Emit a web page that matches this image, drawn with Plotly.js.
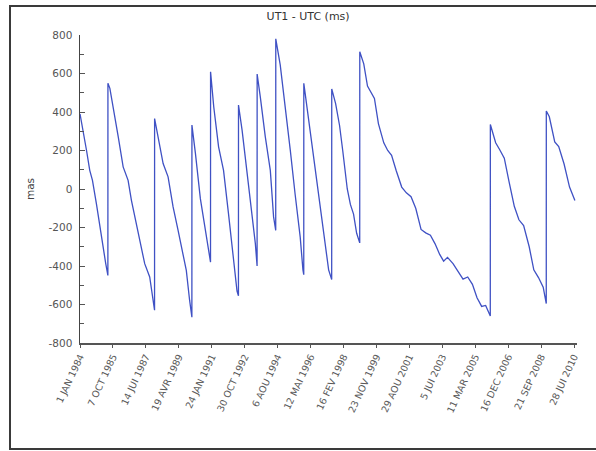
<!DOCTYPE html>
<html>
<head>
<meta charset="utf-8">
<script src="https://cdn.plot.ly/plotly-3.0.1.min.js"></script>
<style>
  html, body { margin: 0; padding: 0; background: #fff; }
  #wrap { position: relative; width: 596px; height: 451px; overflow: hidden; }
  #frame { position: absolute; left: 9px; top: 5px; width: 620px; height: 441px;
           border: 2px solid #3a3a3a; pointer-events: none; z-index: 5; }
  #chart { position: absolute; left: 0; top: 0; width: 596px; height: 451px; }
</style>
</head>
<body>
<div id="wrap">
  <div id="chart"></div>
  <div id="frame"></div>
</div>
<script>
// UT1 - UTC values (ms)
const dates = [
  '1984-01-01','1984-03-01','1984-05-08','1984-07-10','1984-09-01','1984-11-17','1985-01-22','1985-03-29','1985-05-19','1985-06-30',
  '1985-07-01','1985-08-08','1985-10-12','1986-01-19','1986-04-25','1986-07-31','1986-10-04','1987-01-10','1987-04-16','1987-06-21','1987-09-27','1987-12-15','1987-12-31',
  '1988-01-01','1988-03-10','1988-06-16','1988-09-21','1988-12-28','1989-04-05','1989-07-12','1989-09-13','1989-11-17','1989-12-31',
  '1990-01-01','1990-02-01','1990-03-11','1990-06-15','1990-09-20','1990-12-13','1990-12-31',
  '1991-01-01','1991-03-04','1991-06-07','1991-09-12','1991-12-18','1992-03-28','1992-06-02','1992-06-30',
  '1992-07-01','1992-09-09','1992-12-16','1993-03-23','1993-05-27','1993-06-30',
  '1993-07-01','1993-09-01','1993-12-08','1994-03-16','1994-05-19','1994-06-30',
  '1994-07-01','1994-09-26','1995-01-04','1995-04-11','1995-07-16','1995-10-22','1995-12-15','1995-12-31',
  '1996-01-01','1996-03-01','1996-05-01','1996-07-01','1996-09-01','1996-11-01','1997-01-01','1997-03-01','1997-05-01','1997-06-30',
  '1997-07-01','1997-09-15','1997-12-01','1998-02-01','1998-05-01','1998-07-01','1998-09-01','1998-11-01','1998-12-31',
  '1999-01-01','1999-03-20','1999-06-01','1999-08-15','1999-10-15','2000-01-01','2000-04-15','2000-07-01','2000-09-15','2000-12-15',
  '2001-04-01','2001-07-01','2001-10-01','2002-01-01','2002-04-15','2002-07-15','2002-10-15','2003-01-15','2003-04-15','2003-07-01',
  '2003-09-15','2004-01-01','2004-04-15','2004-07-15','2004-10-15','2005-01-15','2005-04-15','2005-07-15','2005-10-01','2005-12-31',
  '2006-01-01','2006-04-15','2006-07-01','2006-10-01','2007-01-01','2007-04-15','2007-07-15','2007-10-15','2008-02-01','2008-05-01','2008-08-01','2008-11-01','2008-12-31',
  '2009-01-01','2009-03-01','2009-06-15','2009-09-01','2009-12-15','2010-04-01','2010-07-15'
];
const utcMs = [
  390, 305, 200, 97, 45, -76, -197, -301, -388, -449,
  549, 523, 427, 271, 115, 45, -59, -180, -301, -388, -457, -600, -630,
  366, 271, 132, 63, -93, -215, -353, -423, -579, -666,
  332, 250, 184, -50, -215, -365, -380,
  609, 427, 219, 97, -128, -388, -530, -555,
  436, 306, 80, -145, -284, -400,
  597, 479, 271, 97, -145, -215,
  780, 645, 435, 202, -30, -249, -420, -445,
  549, 430, 300, 190, 70, -40, -160, -300, -420, -470,
  520, 444, 330, 200, 0, -80, -130, -230, -280,
  713, 650, 535, 500, 470, 340, 240, 200, 175, 95,
  10, -20, -40, -100, -210, -228, -240, -285, -340, -375,
  -355, -388, -428, -468, -457, -495, -565, -610, -605, -660,
  335, 240, 205, 160, 40, -90, -160, -190, -300, -420, -460, -510, -595,
  405, 375, 245, 220, 130, 10, -60
];
const tickDates = ['1984-01-01','1985-10-07','1987-07-14','1989-04-19','1991-01-24','1992-10-30','1994-08-06','1996-05-12',
  '1998-02-16','1999-11-23','2001-08-29','2003-06-05','2005-03-11','2006-12-16','2008-09-21','2010-06-28'];
const tickLabels = ['1 JAN 1984','7 OCT 1985','14 JUI 1987','19 AVR 1989','24 JAN 1991','30 OCT 1992','6 AOU 1994','12 MAI 1996',
  '16 FEV 1998','23 NOV 1999','29 AOU 2001','5 JUI 2003','11 MAR 2005','16 DEC 2006','21 SEP 2008','28 JUI 2010'];
const yTicks = [-800, -600, -400, -200, 0, 200, 400, 600, 800];
const yTickLabels = ['-800', '-600', '-400', '-200', '0', '200', '400', '600', '800'];

const trace = {
  x: dates, y: utcMs, type: 'scatter', mode: 'lines',
  line: { color: '#3f51c4', width: 1.3 },
  hoverinfo: 'skip'
};

const layout = {
  width: 596, height: 451,
  margin: { l: 80, r: 19, t: 35, b: 108 },
  paper_bgcolor: '#ffffff', plot_bgcolor: '#ffffff',
  showlegend: false,
  font: { family: 'DejaVu Sans, sans-serif', color: '#555' },
  title: {
    text: 'UT1 - UTC (ms)',
    font: { family: 'DejaVu Sans, sans-serif', size: 11, color: '#333' },
    xref: 'container', x: 0.517, xanchor: 'center',
    yref: 'container', y: 0.965, yanchor: 'middle'
  },
  xaxis: {
    type: 'date',
    range: ['1984-01-01', '2010-08-25'],
    tickmode: 'array', tickvals: tickDates, ticktext: tickLabels,
    tickangle: -65,
    tickfont: { family: 'DejaVu Sans, sans-serif', size: 9.5, color: '#5a5a5a' },
    ticks: 'outside', ticklen: 3, tickcolor: '#555',
    showline: true, linecolor: '#555', linewidth: 1.5,
    showgrid: false, zeroline: false
  },
  yaxis: {
    range: [-800, 800],
    tickmode: 'array', tickvals: yTicks, ticktext: yTickLabels,
    ticks: 'inside', ticklen: 5, tickcolor: '#555',
    minor: { dtick: 100, ticks: 'inside', ticklen: 4, tickcolor: '#555' },
    tickfont: { family: 'DejaVu Sans, sans-serif', size: 10.5, color: '#555' },
    ticklabelstandoff: 4,
    showline: true, linecolor: '#444', linewidth: 1.5,
    showgrid: false, zeroline: false,
    title: { text: 'mas', standoff: 12, font: { family: 'DejaVu Sans, sans-serif', size: 10.5, color: '#444' } }
  }
};

Plotly.newPlot('chart', [trace], layout, { staticPlot: true, displayModeBar: false });
</script>
</body>
</html>
